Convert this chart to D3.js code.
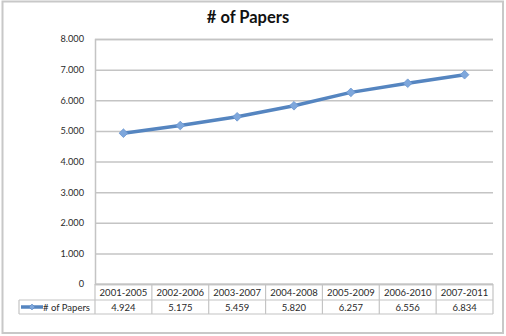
<!DOCTYPE html>
<html><head><meta charset="utf-8">
<script src="https://cdn.jsdelivr.net/npm/d3@7"></script>
<style>
html,body{margin:0;padding:0;background:#fff;}
svg{display:block;}
</style></head>
<body>
<svg id="c" width="506" height="336"></svg>
<script>
const categories = ["2001-2005","2002-2006","2003-2007","2004-2008","2005-2009","2006-2010","2007-2011"];
const papers = [4924, 5175, 5459, 5820, 6257, 6556, 6834];
const yTicks = [0,1000,2000,3000,4000,5000,6000,7000,8000];
const seriesName = "# of Papers";
const chartTitle = "# of Papers";

(function(){
const svg = d3.select("#c");
const font = "Lato, 'Open Sans', sans-serif";
const txt = "#2a2a2a";
const grid = "#c4c4c4";
const pL = 95, pR = 493, pT = 39, pB = 284;

const loc = d3.formatLocale({decimal: ",", thousands: ".", grouping: [3], currency: ["", ""]});
const fmt = loc.format(",");

svg.append("rect").attr("x",2.5).attr("y",1.5).attr("width",500.5).attr("height",331.5)
  .attr("fill","#fff").attr("stroke","#c8c8c8").attr("stroke-width",2);

svg.append("text").attr("x",248).attr("y",23).attr("text-anchor","middle")
  .attr("font-family",font).attr("font-weight","bold").attr("font-size",16.5).attr("fill","#111")
  .text(chartTitle);

const x = d3.scaleBand().domain(categories).range([pL, pR]);
const y = d3.scaleLinear().domain([0, 8000]).range([pB, pT]);

const yAxis = d3.axisLeft(y).tickValues(yTicks).tickSize(-(pR-pL)).tickFormat(d => fmt(d));
const gy = svg.append("g").attr("transform",`translate(${pL},0)`).call(yAxis);
gy.select(".domain").attr("stroke",grid).attr("stroke-width",1.5);
gy.selectAll(".tick line").attr("stroke",grid).attr("stroke-width",1.5);
gy.selectAll(".tick text").attr("x",-11).attr("font-family",font).attr("font-size",9.2).attr("fill",txt);

const rowTop = pB, rowMid = 300, rowBot = 314, legLeft = 19;
const tb = svg.append("g").attr("stroke",grid).attr("stroke-width",1.2).attr("fill","none");
tb.append("line").attr("x1",pL).attr("x2",pR).attr("y1",rowTop).attr("y2",rowTop);
tb.append("line").attr("x1",legLeft).attr("x2",pR).attr("y1",rowMid).attr("y2",rowMid);
tb.append("line").attr("x1",legLeft).attr("x2",pR).attr("y1",rowBot).attr("y2",rowBot);
tb.append("line").attr("x1",legLeft).attr("x2",legLeft).attr("y1",rowMid).attr("y2",rowBot);
const bounds = categories.map(c => x(c)).concat([pR]);
tb.selectAll("line.v").data(bounds).enter().append("line")
  .attr("x1",d=>d).attr("x2",d=>d).attr("y1",rowTop).attr("y2",rowBot);

svg.selectAll("text.cat").data(categories).enter().append("text")
  .attr("x",d => x(d)+x.bandwidth()/2).attr("y",rowMid-4).attr("text-anchor","middle")
  .attr("font-family",font).attr("font-size",9.5).attr("fill",txt).text(d=>d);
svg.selectAll("text.val").data(papers).enter().append("text")
  .attr("x",(d,i) => x(categories[i])+x.bandwidth()/2).attr("y",rowBot-3.5).attr("text-anchor","middle")
  .attr("font-family",font).attr("font-size",9.5).attr("fill",txt).text(d=>fmt(d));

const lineColor = "#5585c0", markFill = "#7ea7dc";
svg.append("line").attr("x1",21).attr("x2",43).attr("y1",307).attr("y2",307)
  .attr("stroke",lineColor).attr("stroke-width",3.5);
svg.append("path").attr("d",d3.symbol(d3.symbolDiamond2, 22)())
  .attr("transform","translate(32,307)").attr("fill",markFill).attr("stroke",lineColor).attr("stroke-width",0.6);
svg.append("text").attr("x",43).attr("y",rowBot-3.5).attr("font-family",font).attr("font-size",9.5).attr("fill",txt).text(seriesName);

const line = d3.line().x((d,i)=>x(categories[i])+x.bandwidth()/2).y(d=>y(d));
svg.append("path").datum(papers).attr("d",line).attr("fill","none")
  .attr("stroke",lineColor).attr("stroke-width",3.5).attr("stroke-linejoin","round");
svg.selectAll("path.m").data(papers).enter().append("path")
  .attr("d",d3.symbol(d3.symbolDiamond2, 48)())
  .attr("transform",(d,i)=>`translate(${x(categories[i])+x.bandwidth()/2},${y(d)})`)
  .attr("fill",markFill).attr("stroke","#6a96cf").attr("stroke-width",0.8);
})();
</script>
</body></html>
